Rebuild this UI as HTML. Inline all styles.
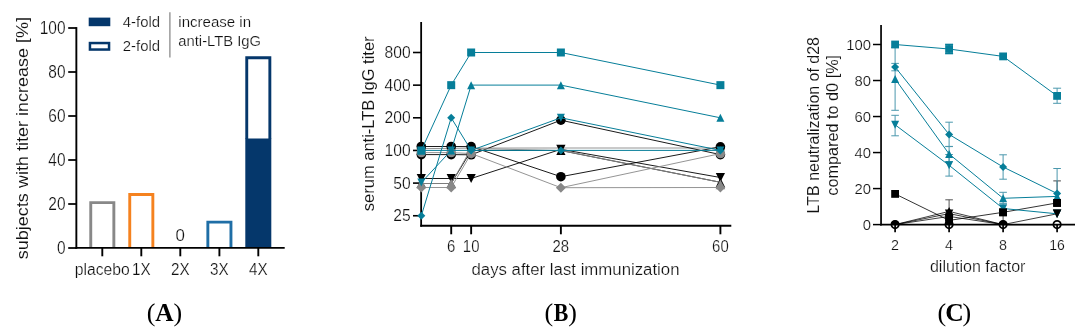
<!DOCTYPE html>
<html><head><meta charset="utf-8"><title>Figure</title>
<style>
html,body{margin:0;padding:0;background:#fff;}
svg{display:block;font-family:"Liberation Sans", sans-serif;will-change:transform;}
</style></head><body>
<svg width="1089" height="334" viewBox="0 0 1089 334">
<rect width="1089" height="334" fill="#fff"/>
<path d="M90.75 247.9 V202.64999999999998 H113.85 V247.9" fill="none" stroke="#888888" stroke-width="2.9"/>
<path d="M129.75 247.9 V194.45 H152.85000000000002 V247.9" fill="none" stroke="#f5821f" stroke-width="2.9"/>
<path d="M207.85 247.9 V222.14999999999998 H230.95000000000002 V247.9" fill="none" stroke="#1f6ea6" stroke-width="2.9"/>
<rect x="245.3" y="138.5" width="26.0" height="109.4" fill="#05376b" stroke="none" stroke-width="0"/>
<path d="M246.75 139 V57.7 H269.85 V139" fill="none" stroke="#05376b" stroke-width="2.9"/>
<line x1="76.35" y1="27.1" x2="76.35" y2="248.8" stroke="#000" stroke-width="1.9" />
<line x1="75.44999999999999" y1="247.9" x2="284.7" y2="247.9" stroke="#000" stroke-width="1.9" />
<line x1="68.2" y1="248.0" x2="76.35" y2="248.0" stroke="#000" stroke-width="1.75" />
<text x="65.5" y="253.5" font-size="17.6" text-anchor="end" textLength="8.6" lengthAdjust="spacingAndGlyphs" fill="#101010" stroke="#fff" stroke-width="0.22" >0</text>
<line x1="68.2" y1="204.0" x2="76.35" y2="204.0" stroke="#000" stroke-width="1.75" />
<text x="65.5" y="209.5" font-size="17.6" text-anchor="end" textLength="17.2" lengthAdjust="spacingAndGlyphs" fill="#101010" stroke="#fff" stroke-width="0.22" >20</text>
<line x1="68.2" y1="160.0" x2="76.35" y2="160.0" stroke="#000" stroke-width="1.75" />
<text x="65.5" y="165.5" font-size="17.6" text-anchor="end" textLength="17.2" lengthAdjust="spacingAndGlyphs" fill="#101010" stroke="#fff" stroke-width="0.22" >40</text>
<line x1="68.2" y1="116.0" x2="76.35" y2="116.0" stroke="#000" stroke-width="1.75" />
<text x="65.5" y="121.5" font-size="17.6" text-anchor="end" textLength="17.2" lengthAdjust="spacingAndGlyphs" fill="#101010" stroke="#fff" stroke-width="0.22" >60</text>
<line x1="68.2" y1="72.0" x2="76.35" y2="72.0" stroke="#000" stroke-width="1.75" />
<text x="65.5" y="77.5" font-size="17.6" text-anchor="end" textLength="17.2" lengthAdjust="spacingAndGlyphs" fill="#101010" stroke="#fff" stroke-width="0.22" >80</text>
<line x1="68.2" y1="27.99999999999997" x2="76.35" y2="27.99999999999997" stroke="#000" stroke-width="1.75" />
<text x="65.5" y="33.49999999999997" font-size="17.6" text-anchor="end" textLength="25.8" lengthAdjust="spacingAndGlyphs" fill="#101010" stroke="#fff" stroke-width="0.22" >100</text>
<line x1="102.3" y1="247.9" x2="102.3" y2="256.3" stroke="#000" stroke-width="1.9" />
<line x1="141.3" y1="247.9" x2="141.3" y2="256.3" stroke="#000" stroke-width="1.9" />
<line x1="180.3" y1="247.9" x2="180.3" y2="256.3" stroke="#000" stroke-width="1.9" />
<line x1="219.4" y1="247.9" x2="219.4" y2="256.3" stroke="#000" stroke-width="1.9" />
<line x1="258.3" y1="247.9" x2="258.3" y2="256.3" stroke="#000" stroke-width="1.9" />
<text x="102.3" y="274.8" font-size="15.8" text-anchor="middle" textLength="55" lengthAdjust="spacingAndGlyphs" fill="#101010" stroke="#fff" stroke-width="0.22" >placebo</text>
<text x="141.3" y="274.8" font-size="15.8" text-anchor="middle" textLength="18.6" lengthAdjust="spacingAndGlyphs" fill="#101010" stroke="#fff" stroke-width="0.22" >1X</text>
<text x="180.3" y="274.8" font-size="15.8" text-anchor="middle" textLength="18.6" lengthAdjust="spacingAndGlyphs" fill="#101010" stroke="#fff" stroke-width="0.22" >2X</text>
<text x="219.4" y="274.8" font-size="15.8" text-anchor="middle" textLength="18.6" lengthAdjust="spacingAndGlyphs" fill="#101010" stroke="#fff" stroke-width="0.22" >3X</text>
<text x="258.3" y="274.8" font-size="15.8" text-anchor="middle" textLength="18.6" lengthAdjust="spacingAndGlyphs" fill="#101010" stroke="#fff" stroke-width="0.22" >4X</text>
<text x="180.2" y="240.6" font-size="16.5" text-anchor="middle" textLength="9.4" lengthAdjust="spacingAndGlyphs" fill="#101010" stroke="#fff" stroke-width="0.22" >0</text>
<text x="27.9" y="259.2" font-size="16.8" text-anchor="start" textLength="242.3" lengthAdjust="spacingAndGlyphs" transform="rotate(-90 27.9 259.2)" fill="#101010" stroke="#fff" stroke-width="0.08" >subjects with titer increase [%]</text>
<rect x="88.7" y="17.6" width="21.6" height="8.6" fill="#05376b" stroke="none" stroke-width="0"/>
<rect x="89.95" y="43.05" width="19.1" height="6.5" fill="none" stroke="#05376b" stroke-width="2.5"/>
<text x="122.8" y="27.1" font-size="15.3" text-anchor="start" textLength="37.3" lengthAdjust="spacingAndGlyphs" fill="#101010" stroke="#fff" stroke-width="0.22" >4-fold</text>
<text x="122.8" y="51.4" font-size="15.3" text-anchor="start" textLength="37.3" lengthAdjust="spacingAndGlyphs" fill="#101010" stroke="#fff" stroke-width="0.22" >2-fold</text>
<line x1="169.9" y1="12.3" x2="169.9" y2="57.6" stroke="#868686" stroke-width="1.25" />
<text x="178.3" y="27.1" font-size="15.3" text-anchor="start" textLength="72.8" lengthAdjust="spacingAndGlyphs" fill="#101010" stroke="#fff" stroke-width="0.22" >increase in</text>
<text x="178.3" y="46.4" font-size="15.3" text-anchor="start" textLength="82.8" lengthAdjust="spacingAndGlyphs" fill="#101010" stroke="#fff" stroke-width="0.22" >anti-LTB IgG</text>
<line x1="421.15" y1="22" x2="421.15" y2="226.70000000000002" stroke="#000" stroke-width="1.8" />
<line x1="420.25" y1="225.8" x2="731.3" y2="225.8" stroke="#000" stroke-width="1.9" />
<line x1="413" y1="52.5" x2="421.15" y2="52.5" stroke="#000" stroke-width="1.6" />
<text x="410.6" y="58.0" font-size="15.8" text-anchor="end" textLength="26.099999999999998" lengthAdjust="spacingAndGlyphs" fill="#101010" stroke="#fff" stroke-width="0.22" >800</text>
<line x1="413" y1="85.14999999999999" x2="421.15" y2="85.14999999999999" stroke="#000" stroke-width="1.6" />
<text x="410.6" y="90.64999999999999" font-size="15.8" text-anchor="end" textLength="26.099999999999998" lengthAdjust="spacingAndGlyphs" fill="#101010" stroke="#fff" stroke-width="0.22" >400</text>
<line x1="413" y1="117.79999999999998" x2="421.15" y2="117.79999999999998" stroke="#000" stroke-width="1.6" />
<text x="410.6" y="123.29999999999998" font-size="15.8" text-anchor="end" textLength="26.099999999999998" lengthAdjust="spacingAndGlyphs" fill="#101010" stroke="#fff" stroke-width="0.22" >200</text>
<line x1="413" y1="150.45" x2="421.15" y2="150.45" stroke="#000" stroke-width="1.6" />
<text x="410.6" y="155.95" font-size="15.8" text-anchor="end" textLength="26.099999999999998" lengthAdjust="spacingAndGlyphs" fill="#101010" stroke="#fff" stroke-width="0.22" >100</text>
<line x1="413" y1="183.1" x2="421.15" y2="183.1" stroke="#000" stroke-width="1.6" />
<text x="410.6" y="188.6" font-size="15.8" text-anchor="end" textLength="17.4" lengthAdjust="spacingAndGlyphs" fill="#101010" stroke="#fff" stroke-width="0.22" >50</text>
<line x1="413" y1="215.75" x2="421.15" y2="215.75" stroke="#000" stroke-width="1.6" />
<text x="410.6" y="221.25" font-size="15.8" text-anchor="end" textLength="17.4" lengthAdjust="spacingAndGlyphs" fill="#101010" stroke="#fff" stroke-width="0.22" >25</text>
<line x1="451.21000000000004" y1="225.8" x2="451.21000000000004" y2="234.3" stroke="#000" stroke-width="1.9" />
<text x="451.21000000000004" y="251.6" font-size="16.3" text-anchor="middle" textLength="8.3" lengthAdjust="spacingAndGlyphs" fill="#101010" stroke="#fff" stroke-width="0.22" >6</text>
<line x1="471.15000000000003" y1="225.8" x2="471.15000000000003" y2="234.3" stroke="#000" stroke-width="1.9" />
<text x="471.15000000000003" y="251.6" font-size="16.3" text-anchor="middle" textLength="16.6" lengthAdjust="spacingAndGlyphs" fill="#101010" stroke="#fff" stroke-width="0.22" >10</text>
<line x1="560.88" y1="225.8" x2="560.88" y2="234.3" stroke="#000" stroke-width="1.9" />
<text x="560.88" y="251.6" font-size="16.3" text-anchor="middle" textLength="16.6" lengthAdjust="spacingAndGlyphs" fill="#101010" stroke="#fff" stroke-width="0.22" >28</text>
<line x1="720.4000000000001" y1="225.8" x2="720.4000000000001" y2="234.3" stroke="#000" stroke-width="1.9" />
<text x="720.4000000000001" y="251.6" font-size="16.3" text-anchor="middle" textLength="16.6" lengthAdjust="spacingAndGlyphs" fill="#101010" stroke="#fff" stroke-width="0.22" >60</text>
<polyline points="421.3,148.6 451.2,148.4 471.2,148.1 560.9,148.0 720.4,148.0" fill="none" stroke="#888888" stroke-width="0.9"/>
<circle cx="421.3" cy="148.6" r="4.6" fill="#888888"/>
<circle cx="451.21000000000004" cy="148.4" r="4.6" fill="#888888"/>
<circle cx="471.15000000000003" cy="148.1" r="4.6" fill="#888888"/>
<circle cx="720.4000000000001" cy="148" r="4.6" fill="#888888"/>
<polyline points="421.3,146.5 451.2,146.5 471.2,146.6 560.9,176.7 720.4,146.8" fill="none" stroke="#000" stroke-width="0.9"/>
<circle cx="421.3" cy="146.5" r="4.8" fill="#000"/>
<circle cx="451.21000000000004" cy="146.5" r="4.8" fill="#000"/>
<circle cx="471.15000000000003" cy="146.6" r="4.8" fill="#000"/>
<circle cx="560.88" cy="176.7" r="4.8" fill="#000"/>
<circle cx="720.4000000000001" cy="146.8" r="4.8" fill="#000"/>
<polyline points="421.3,154.6 451.2,154.6 471.2,154.8 560.9,120.2 720.4,154.6" fill="none" stroke="#000" stroke-width="0.9"/>
<circle cx="421.3" cy="154.6" r="4.8" fill="#000"/>
<circle cx="451.21000000000004" cy="154.6" r="4.8" fill="#000"/>
<circle cx="471.15000000000003" cy="154.8" r="4.8" fill="#000"/>
<circle cx="560.88" cy="120.2" r="4.8" fill="#000"/>
<circle cx="720.4000000000001" cy="154.6" r="4.8" fill="#000"/>
<polyline points="421.3,178.5 451.2,178.5 471.2,178.5 560.9,149.3 720.4,177.5" fill="none" stroke="#000" stroke-width="0.9"/>
<path d="M416.7 173.9 L425.90000000000003 173.9 L421.3 183.1 Z" fill="#000"/>
<path d="M446.61 173.9 L455.81000000000006 173.9 L451.21000000000004 183.1 Z" fill="#000"/>
<path d="M466.55 173.9 L475.75000000000006 173.9 L471.15000000000003 183.1 Z" fill="#000"/>
<path d="M556.28 144.70000000000002 L565.48 144.70000000000002 L560.88 153.9 Z" fill="#000"/>
<path d="M715.8000000000001 172.9 L725.0000000000001 172.9 L720.4000000000001 182.1 Z" fill="#000"/>
<polyline points="421.3,183.5 451.2,183.5 471.2,150.5 560.9,150.5 720.4,182.3" fill="none" stroke="#000" stroke-width="0.9"/>
<path d="M416.7 188.1 L425.90000000000003 188.1 L421.3 178.9 Z" fill="#000"/>
<path d="M446.61 188.1 L455.81000000000006 188.1 L451.21000000000004 178.9 Z" fill="#000"/>
<path d="M466.55 155.1 L475.75000000000006 155.1 L471.15000000000003 145.9 Z" fill="#000"/>
<path d="M556.28 155.1 L565.48 155.1 L560.88 145.9 Z" fill="#000"/>
<path d="M715.8000000000001 186.9 L725.0000000000001 186.9 L720.4000000000001 177.70000000000002 Z" fill="#000"/>
<polyline points="421.3,183.5 451.2,183.5 471.2,148.5 560.9,150.5 720.4,182.3" fill="none" stroke="#888888" stroke-width="0.9"/>
<path d="M416.5 188.3 L426.1 188.3 L421.3 178.7 Z" fill="#888888"/>
<path d="M446.41 188.3 L456.01000000000005 188.3 L451.21000000000004 178.7 Z" fill="#888888"/>
<path d="M715.6000000000001 189.3 L725.2 189.3 L720.4000000000001 179.7 Z" fill="#888888"/>
<polyline points="421.3,152.6 451.2,152.6 471.2,153.5" fill="none" stroke="#888888" stroke-width="0.9"/>
<circle cx="421.3" cy="152.6" r="4.7" fill="#888888"/>
<circle cx="451.21000000000004" cy="152.6" r="4.7" fill="#888888"/>
<circle cx="471.15000000000003" cy="153.5" r="4.7" fill="#888888"/>
<polyline points="560.9,187.7 720.4,153.6" fill="none" stroke="#888888" stroke-width="0.9"/>
<circle cx="720.4000000000001" cy="153.6" r="4.7" fill="#888888"/>
<polyline points="421.3,187.5 451.2,187.5 471.2,153.5 560.9,187.7 720.4,187.5" fill="none" stroke="#888888" stroke-width="0.9"/>
<path d="M416.3 187.5 L421.3 182.5 L426.3 187.5 L421.3 192.5 Z" fill="#888888"/>
<path d="M446.21000000000004 187.5 L451.21000000000004 182.5 L456.21000000000004 187.5 L451.21000000000004 192.5 Z" fill="#888888"/>
<path d="M466.15000000000003 153.5 L471.15000000000003 148.5 L476.15000000000003 153.5 L471.15000000000003 158.5 Z" fill="#888888"/>
<path d="M555.88 187.7 L560.88 182.7 L565.88 187.7 L560.88 192.7 Z" fill="#888888"/>
<path d="M715.4000000000001 187.5 L720.4000000000001 182.5 L725.4000000000001 187.5 L720.4000000000001 192.5 Z" fill="#888888"/>
<polyline points="421.3,150.4 451.2,150.4 471.2,85.1 560.9,85.1 720.4,117.8" fill="none" stroke="#067e99" stroke-width="1.0"/>
<path d="M417.3 154.45 L425.3 154.45 L421.3 146.45 Z" fill="#067e99"/>
<path d="M447.21000000000004 154.45 L455.21000000000004 154.45 L451.21000000000004 146.45 Z" fill="#067e99"/>
<path d="M467.15000000000003 89.14999999999999 L475.15000000000003 89.14999999999999 L471.15000000000003 81.14999999999999 Z" fill="#067e99"/>
<path d="M556.88 89.14999999999999 L564.88 89.14999999999999 L560.88 81.14999999999999 Z" fill="#067e99"/>
<path d="M716.4000000000001 121.79999999999998 L724.4000000000001 121.79999999999998 L720.4000000000001 113.79999999999998 Z" fill="#067e99"/>
<polyline points="421.3,182.6 451.2,150.4 471.2,150.4 560.9,117.8 720.4,150.4" fill="none" stroke="#067e99" stroke-width="1.0"/>
<path d="M417.3 178.6 L425.3 178.6 L421.3 186.6 Z" fill="#067e99"/>
<path d="M447.21000000000004 146.45 L455.21000000000004 146.45 L451.21000000000004 154.45 Z" fill="#067e99"/>
<path d="M467.15000000000003 146.45 L475.15000000000003 146.45 L471.15000000000003 154.45 Z" fill="#067e99"/>
<path d="M556.88 113.79999999999998 L564.88 113.79999999999998 L560.88 121.79999999999998 Z" fill="#067e99"/>
<path d="M716.4000000000001 146.45 L724.4000000000001 146.45 L720.4000000000001 154.45 Z" fill="#067e99"/>
<polyline points="421.3,215.8 451.2,117.8 471.2,150.4 560.9,150.4 720.4,150.4" fill="none" stroke="#067e99" stroke-width="1.0"/>
<path d="M417.3 215.75 L421.3 211.75 L425.3 215.75 L421.3 219.75 Z" fill="#067e99"/>
<path d="M447.21000000000004 117.79999999999998 L451.21000000000004 113.79999999999998 L455.21000000000004 117.79999999999998 L451.21000000000004 121.79999999999998 Z" fill="#067e99"/>
<path d="M467.15000000000003 150.45 L471.15000000000003 146.45 L475.15000000000003 150.45 L471.15000000000003 154.45 Z" fill="#067e99"/>
<path d="M556.88 150.45 L560.88 146.45 L564.88 150.45 L560.88 154.45 Z" fill="#067e99"/>
<path d="M716.4000000000001 150.45 L720.4000000000001 146.45 L724.4000000000001 150.45 L720.4000000000001 154.45 Z" fill="#067e99"/>
<polyline points="421.3,150.4 451.2,85.1 471.2,52.5 560.9,52.5 720.4,85.1" fill="none" stroke="#067e99" stroke-width="1.0"/>
<rect x="417.3" y="146.45" width="8" height="8" fill="#067e99"/>
<rect x="447.21000000000004" y="81.14999999999999" width="8" height="8" fill="#067e99"/>
<rect x="467.15000000000003" y="48.5" width="8" height="8" fill="#067e99"/>
<rect x="556.88" y="48.5" width="8" height="8" fill="#067e99"/>
<rect x="716.4000000000001" y="81.14999999999999" width="8" height="8" fill="#067e99"/>
<text x="575.5" y="275.2" font-size="16.0" text-anchor="middle" textLength="208" lengthAdjust="spacingAndGlyphs" fill="#101010" stroke="#fff" stroke-width="0.22" >days after last immunization</text>
<text x="374.2" y="211.2" font-size="16.3" text-anchor="start" textLength="174.8" lengthAdjust="spacingAndGlyphs" transform="rotate(-90 374.2 211.2)" fill="#101010" stroke="#fff" stroke-width="0.08" >serum anti-LTB IgG titer</text>
<line x1="949.1" y1="212" x2="949.1" y2="199.8" stroke="#444" stroke-width="0.9" />
<line x1="945.3000000000001" y1="199.8" x2="952.9" y2="199.8" stroke="#444" stroke-width="0.9" />
<line x1="1057.1" y1="202.9" x2="1057.1" y2="180.9" stroke="#333" stroke-width="0.9" />
<line x1="1053.3" y1="180.9" x2="1060.8999999999999" y2="180.9" stroke="#333" stroke-width="0.9" />
<line x1="1003.1" y1="212.3" x2="1003.1" y2="222.3" stroke="#333" stroke-width="0.9" />
<line x1="1003.1" y1="222.3" x2="1003.1" y2="222.3" stroke="#333" stroke-width="0.9" />
<circle cx="895.1" cy="224.6" r="3.7" fill="#fff" stroke="#000" stroke-width="1.8"/>
<circle cx="949.1" cy="224.6" r="3.7" fill="#fff" stroke="#000" stroke-width="1.8"/>
<circle cx="1003.1" cy="224.6" r="3.7" fill="#fff" stroke="#000" stroke-width="1.8"/>
<circle cx="1057.1" cy="224.6" r="3.7" fill="#fff" stroke="#000" stroke-width="1.8"/>
<path d="M890.8000000000001 224.9 A4.3 4.3 0 0 1 899.4 224.9 Z" fill="#000"/>
<path d="M998.8000000000001 224.9 A4.3 4.3 0 0 1 1007.4 224.9 Z" fill="#000"/>
<polyline points="895.1,224.6 949.1,216.4 1003.1,224.6 1057.1,224.6" fill="none" stroke="#000" stroke-width="0.75"/>
<polyline points="895.1,224.6 949.1,213.6 1003.1,224.6 1057.1,213.8" fill="none" stroke="#000" stroke-width="0.75"/>
<path d="M944.9 209.4 L953.3000000000001 209.4 L949.1 217.79999999999998 Z" fill="#000"/>
<path d="M1052.8999999999999 209.60000000000002 L1061.3 209.60000000000002 L1057.1 218.0 Z" fill="#000"/>
<polyline points="895.1,224.6 949.1,211.4 1003.1,224.6 1057.1,224.6" fill="none" stroke="#000" stroke-width="0.75"/>
<path d="M944.7 215.8 L953.5 215.8 L949.1 207.0 Z" fill="#000"/>
<polyline points="895.1,193.9 949.1,220.4 1003.1,212.3 1057.1,202.9" fill="none" stroke="#000" stroke-width="0.8"/>
<rect x="891.2" y="190.0" width="7.8" height="7.8" fill="#000"/>
<rect x="945.2" y="216.5" width="7.8" height="7.8" fill="#000"/>
<rect x="999.2" y="208.4" width="7.8" height="7.8" fill="#000"/>
<rect x="1053.1999999999998" y="199.0" width="7.8" height="7.8" fill="#000"/>
<rect x="945.2" y="213.4" width="7.8" height="7.8" fill="#000"/>
<line x1="895.1" y1="78.9" x2="895.1" y2="47.50000000000001" stroke="#4b98ad" stroke-width="1.0" />
<line x1="891.3000000000001" y1="47.50000000000001" x2="898.9" y2="47.50000000000001" stroke="#4b98ad" stroke-width="1.0" />
<line x1="895.1" y1="78.9" x2="895.1" y2="110.30000000000001" stroke="#4b98ad" stroke-width="1.0" />
<line x1="891.3000000000001" y1="110.30000000000001" x2="898.9" y2="110.30000000000001" stroke="#4b98ad" stroke-width="1.0" />
<line x1="895.1" y1="67" x2="895.1" y2="63.4" stroke="#4b98ad" stroke-width="1.0" />
<line x1="891.3000000000001" y1="63.4" x2="898.9" y2="63.4" stroke="#4b98ad" stroke-width="1.0" />
<line x1="895.1" y1="67" x2="895.1" y2="70.8" stroke="#4b98ad" stroke-width="1.0" />
<line x1="891.3000000000001" y1="70.8" x2="898.9" y2="70.8" stroke="#4b98ad" stroke-width="1.0" />
<line x1="895.1" y1="124.8" x2="895.1" y2="115.3" stroke="#4b98ad" stroke-width="1.0" />
<line x1="891.3000000000001" y1="115.3" x2="898.9" y2="115.3" stroke="#4b98ad" stroke-width="1.0" />
<line x1="895.1" y1="124.8" x2="895.1" y2="135.8" stroke="#4b98ad" stroke-width="1.0" />
<line x1="891.3000000000001" y1="135.8" x2="898.9" y2="135.8" stroke="#4b98ad" stroke-width="1.0" />
<line x1="949.1" y1="134.4" x2="949.1" y2="122.2" stroke="#4b98ad" stroke-width="1.0" />
<line x1="945.3000000000001" y1="122.2" x2="952.9" y2="122.2" stroke="#4b98ad" stroke-width="1.0" />
<line x1="949.1" y1="134.4" x2="949.1" y2="146.6" stroke="#4b98ad" stroke-width="1.0" />
<line x1="945.3000000000001" y1="146.6" x2="952.9" y2="146.6" stroke="#4b98ad" stroke-width="1.0" />
<line x1="949.1" y1="154" x2="949.1" y2="146.4" stroke="#4b98ad" stroke-width="1.0" />
<line x1="945.3000000000001" y1="146.4" x2="952.9" y2="146.4" stroke="#4b98ad" stroke-width="1.0" />
<line x1="949.1" y1="154" x2="949.1" y2="161.6" stroke="#4b98ad" stroke-width="1.0" />
<line x1="945.3000000000001" y1="161.6" x2="952.9" y2="161.6" stroke="#4b98ad" stroke-width="1.0" />
<line x1="949.1" y1="165.3" x2="949.1" y2="154.5" stroke="#4b98ad" stroke-width="1.0" />
<line x1="945.3000000000001" y1="154.5" x2="952.9" y2="154.5" stroke="#4b98ad" stroke-width="1.0" />
<line x1="949.1" y1="165.3" x2="949.1" y2="176.10000000000002" stroke="#4b98ad" stroke-width="1.0" />
<line x1="945.3000000000001" y1="176.10000000000002" x2="952.9" y2="176.10000000000002" stroke="#4b98ad" stroke-width="1.0" />
<line x1="1003.1" y1="167" x2="1003.1" y2="154.8" stroke="#4b98ad" stroke-width="1.0" />
<line x1="999.3000000000001" y1="154.8" x2="1006.9" y2="154.8" stroke="#4b98ad" stroke-width="1.0" />
<line x1="1003.1" y1="167" x2="1003.1" y2="179.2" stroke="#4b98ad" stroke-width="1.0" />
<line x1="999.3000000000001" y1="179.2" x2="1006.9" y2="179.2" stroke="#4b98ad" stroke-width="1.0" />
<line x1="1003.1" y1="198.3" x2="1003.1" y2="192.3" stroke="#4b98ad" stroke-width="1.0" />
<line x1="999.3000000000001" y1="192.3" x2="1006.9" y2="192.3" stroke="#4b98ad" stroke-width="1.0" />
<line x1="1003.1" y1="198.3" x2="1003.1" y2="203.9" stroke="#4b98ad" stroke-width="1.0" />
<line x1="999.3000000000001" y1="203.9" x2="1006.9" y2="203.9" stroke="#4b98ad" stroke-width="1.0" />
<line x1="1003.1" y1="208.5" x2="1003.1" y2="203.8" stroke="#4b98ad" stroke-width="1.0" />
<line x1="999.3000000000001" y1="203.8" x2="1006.9" y2="203.8" stroke="#4b98ad" stroke-width="1.0" />
<line x1="1003.1" y1="208.5" x2="1003.1" y2="212.5" stroke="#4b98ad" stroke-width="1.0" />
<line x1="999.3000000000001" y1="212.5" x2="1006.9" y2="212.5" stroke="#4b98ad" stroke-width="1.0" />
<line x1="1057.1" y1="193.5" x2="1057.1" y2="168.5" stroke="#4b98ad" stroke-width="1.0" />
<line x1="1053.3" y1="168.5" x2="1060.8999999999999" y2="168.5" stroke="#4b98ad" stroke-width="1.0" />
<line x1="1057.1" y1="95.9" x2="1057.1" y2="88.2" stroke="#4b98ad" stroke-width="1.0" />
<line x1="1053.1" y1="88.2" x2="1061.1" y2="88.2" stroke="#4b98ad" stroke-width="1.0" />
<line x1="1057.1" y1="95.9" x2="1057.1" y2="103.30000000000001" stroke="#4b98ad" stroke-width="1.0" />
<line x1="1053.1" y1="103.30000000000001" x2="1061.1" y2="103.30000000000001" stroke="#4b98ad" stroke-width="1.0" />
<line x1="949.1" y1="49" x2="949.1" y2="44.4" stroke="#067e99" stroke-width="1.4" />
<line x1="945.1" y1="44.4" x2="953.1" y2="44.4" stroke="#067e99" stroke-width="1.4" />
<line x1="949.1" y1="49" x2="949.1" y2="53.6" stroke="#067e99" stroke-width="1.4" />
<line x1="945.1" y1="53.6" x2="953.1" y2="53.6" stroke="#067e99" stroke-width="1.4" />
<polyline points="895.1,124.8 949.1,165.3 1003.1,208.5 1057.1,213.8" fill="none" stroke="#067e99" stroke-width="1.0"/>
<path d="M891.1 120.8 L899.1 120.8 L895.1 128.8 Z" fill="#067e99"/>
<path d="M945.1 161.3 L953.1 161.3 L949.1 169.3 Z" fill="#067e99"/>
<path d="M999.1 204.5 L1007.1 204.5 L1003.1 212.5 Z" fill="#067e99"/>
<path d="M1053.1 209.8 L1061.1 209.8 L1057.1 217.8 Z" fill="#067e99"/>
<polyline points="895.1,78.9 949.1,154.0 1003.1,198.3 1057.1,196.4" fill="none" stroke="#067e99" stroke-width="1.0"/>
<path d="M891.1 82.9 L899.1 82.9 L895.1 74.9 Z" fill="#067e99"/>
<path d="M945.1 158.0 L953.1 158.0 L949.1 150.0 Z" fill="#067e99"/>
<path d="M999.1 202.3 L1007.1 202.3 L1003.1 194.3 Z" fill="#067e99"/>
<path d="M1053.1 200.4 L1061.1 200.4 L1057.1 192.4 Z" fill="#067e99"/>
<polyline points="895.1,67.0 949.1,134.4 1003.1,167.0 1057.1,193.5" fill="none" stroke="#067e99" stroke-width="1.0"/>
<path d="M891.1 67 L895.1 63.0 L899.1 67 L895.1 71.0 Z" fill="#067e99"/>
<path d="M945.1 134.4 L949.1 130.4 L953.1 134.4 L949.1 138.4 Z" fill="#067e99"/>
<path d="M999.1 167 L1003.1 163.0 L1007.1 167 L1003.1 171.0 Z" fill="#067e99"/>
<path d="M1053.1 193.5 L1057.1 189.5 L1061.1 193.5 L1057.1 197.5 Z" fill="#067e99"/>
<polyline points="895.1,44.5 949.1,49.0 1003.1,56.4 1057.1,95.9" fill="none" stroke="#067e99" stroke-width="1.0"/>
<rect x="891.2" y="40.6" width="7.8" height="7.8" fill="#067e99"/>
<rect x="945.2" y="45.1" width="7.8" height="7.8" fill="#067e99"/>
<rect x="999.2" y="52.5" width="7.8" height="7.8" fill="#067e99"/>
<rect x="1053.1999999999998" y="92.0" width="7.8" height="7.8" fill="#067e99"/>
<rect x="1053.1999999999998" y="199.0" width="7.8" height="7.8" fill="#000"/>
<path d="M1052.8999999999999 209.60000000000002 L1061.3 209.60000000000002 L1057.1 218.0 Z" fill="#000"/>
<rect x="999.2" y="208.4" width="7.8" height="7.8" fill="#000"/>
<line x1="881.05" y1="25" x2="881.05" y2="225.45" stroke="#000" stroke-width="1.7" />
<line x1="880.1999999999999" y1="224.6" x2="1075" y2="224.6" stroke="#000" stroke-width="1.75" />
<line x1="873" y1="224.6" x2="881.05" y2="224.6" stroke="#000" stroke-width="1.5" />
<text x="870.9" y="229.6" font-size="14.8" text-anchor="end" textLength="8.25" lengthAdjust="spacingAndGlyphs" fill="#101010" stroke="#fff" stroke-width="0.22" >0</text>
<line x1="873" y1="188.57999999999998" x2="881.05" y2="188.57999999999998" stroke="#000" stroke-width="1.5" />
<text x="870.9" y="193.57999999999998" font-size="14.8" text-anchor="end" textLength="16.5" lengthAdjust="spacingAndGlyphs" fill="#101010" stroke="#fff" stroke-width="0.22" >20</text>
<line x1="873" y1="152.56" x2="881.05" y2="152.56" stroke="#000" stroke-width="1.5" />
<text x="870.9" y="157.56" font-size="14.8" text-anchor="end" textLength="16.5" lengthAdjust="spacingAndGlyphs" fill="#101010" stroke="#fff" stroke-width="0.22" >40</text>
<line x1="873" y1="116.53999999999999" x2="881.05" y2="116.53999999999999" stroke="#000" stroke-width="1.5" />
<text x="870.9" y="121.53999999999999" font-size="14.8" text-anchor="end" textLength="16.5" lengthAdjust="spacingAndGlyphs" fill="#101010" stroke="#fff" stroke-width="0.22" >60</text>
<line x1="873" y1="80.52000000000001" x2="881.05" y2="80.52000000000001" stroke="#000" stroke-width="1.5" />
<text x="870.9" y="85.52000000000001" font-size="14.8" text-anchor="end" textLength="16.5" lengthAdjust="spacingAndGlyphs" fill="#101010" stroke="#fff" stroke-width="0.22" >80</text>
<line x1="873" y1="44.5" x2="881.05" y2="44.5" stroke="#000" stroke-width="1.5" />
<text x="870.9" y="49.5" font-size="14.8" text-anchor="end" textLength="24.75" lengthAdjust="spacingAndGlyphs" fill="#101010" stroke="#fff" stroke-width="0.22" >100</text>
<line x1="895.1" y1="224.6" x2="895.1" y2="232.2" stroke="#000" stroke-width="1.7" />
<text x="895.1" y="249.8" font-size="14.6" text-anchor="middle" textLength="8.0" lengthAdjust="spacingAndGlyphs" fill="#101010" stroke="#fff" stroke-width="0.22" >2</text>
<line x1="949.1" y1="224.6" x2="949.1" y2="232.2" stroke="#000" stroke-width="1.7" />
<text x="949.1" y="249.8" font-size="14.6" text-anchor="middle" textLength="8.0" lengthAdjust="spacingAndGlyphs" fill="#101010" stroke="#fff" stroke-width="0.22" >4</text>
<line x1="1003.1" y1="224.6" x2="1003.1" y2="232.2" stroke="#000" stroke-width="1.7" />
<text x="1003.1" y="249.8" font-size="14.6" text-anchor="middle" textLength="8.0" lengthAdjust="spacingAndGlyphs" fill="#101010" stroke="#fff" stroke-width="0.22" >8</text>
<line x1="1057.1" y1="224.6" x2="1057.1" y2="232.2" stroke="#000" stroke-width="1.7" />
<text x="1057.1" y="249.8" font-size="14.6" text-anchor="middle" textLength="15.6" lengthAdjust="spacingAndGlyphs" fill="#101010" stroke="#fff" stroke-width="0.22" >16</text>
<text x="977.7" y="272" font-size="15.9" text-anchor="middle" textLength="95.5" lengthAdjust="spacingAndGlyphs" fill="#101010" stroke="#fff" stroke-width="0.22" >dilution factor</text>
<text x="819.1" y="213.4" font-size="15.8" text-anchor="start" textLength="176.4" lengthAdjust="spacingAndGlyphs" transform="rotate(-90 819.1 213.4)" fill="#101010" stroke="#fff" stroke-width="0.08" >LTB neutralization of d28</text>
<text x="838.1" y="195.7" font-size="15.8" text-anchor="start" textLength="140.8" lengthAdjust="spacingAndGlyphs" transform="rotate(-90 838.1 195.7)" fill="#101010" stroke="#fff" stroke-width="0.08" >compared to d0 [%]</text>
<g font-family='"Liberation Serif", serif' font-size="26" fill="#000"><text x="146.65" y="320.6" text-anchor="start">(</text><text x="164.5" y="320.6" text-anchor="middle" font-weight="bold" textLength="18.3" lengthAdjust="spacingAndGlyphs">A</text><text x="182.05" y="320.6" text-anchor="end">)</text></g>
<g font-family='"Liberation Serif", serif' font-size="26" fill="#000"><text x="544.45" y="320.6" text-anchor="start">(</text><text x="561.15" y="320.6" text-anchor="middle" font-weight="bold" textLength="14.6" lengthAdjust="spacingAndGlyphs">B</text><text x="576.95" y="320.6" text-anchor="end">)</text></g>
<g font-family='"Liberation Serif", serif' font-size="26" fill="#000"><text x="937.45" y="320.6" text-anchor="start">(</text><text x="954.55" y="320.6" text-anchor="middle" font-weight="bold" textLength="18.5" lengthAdjust="spacingAndGlyphs">C</text><text x="971.25" y="320.6" text-anchor="end">)</text></g>
</svg>
</body></html>
